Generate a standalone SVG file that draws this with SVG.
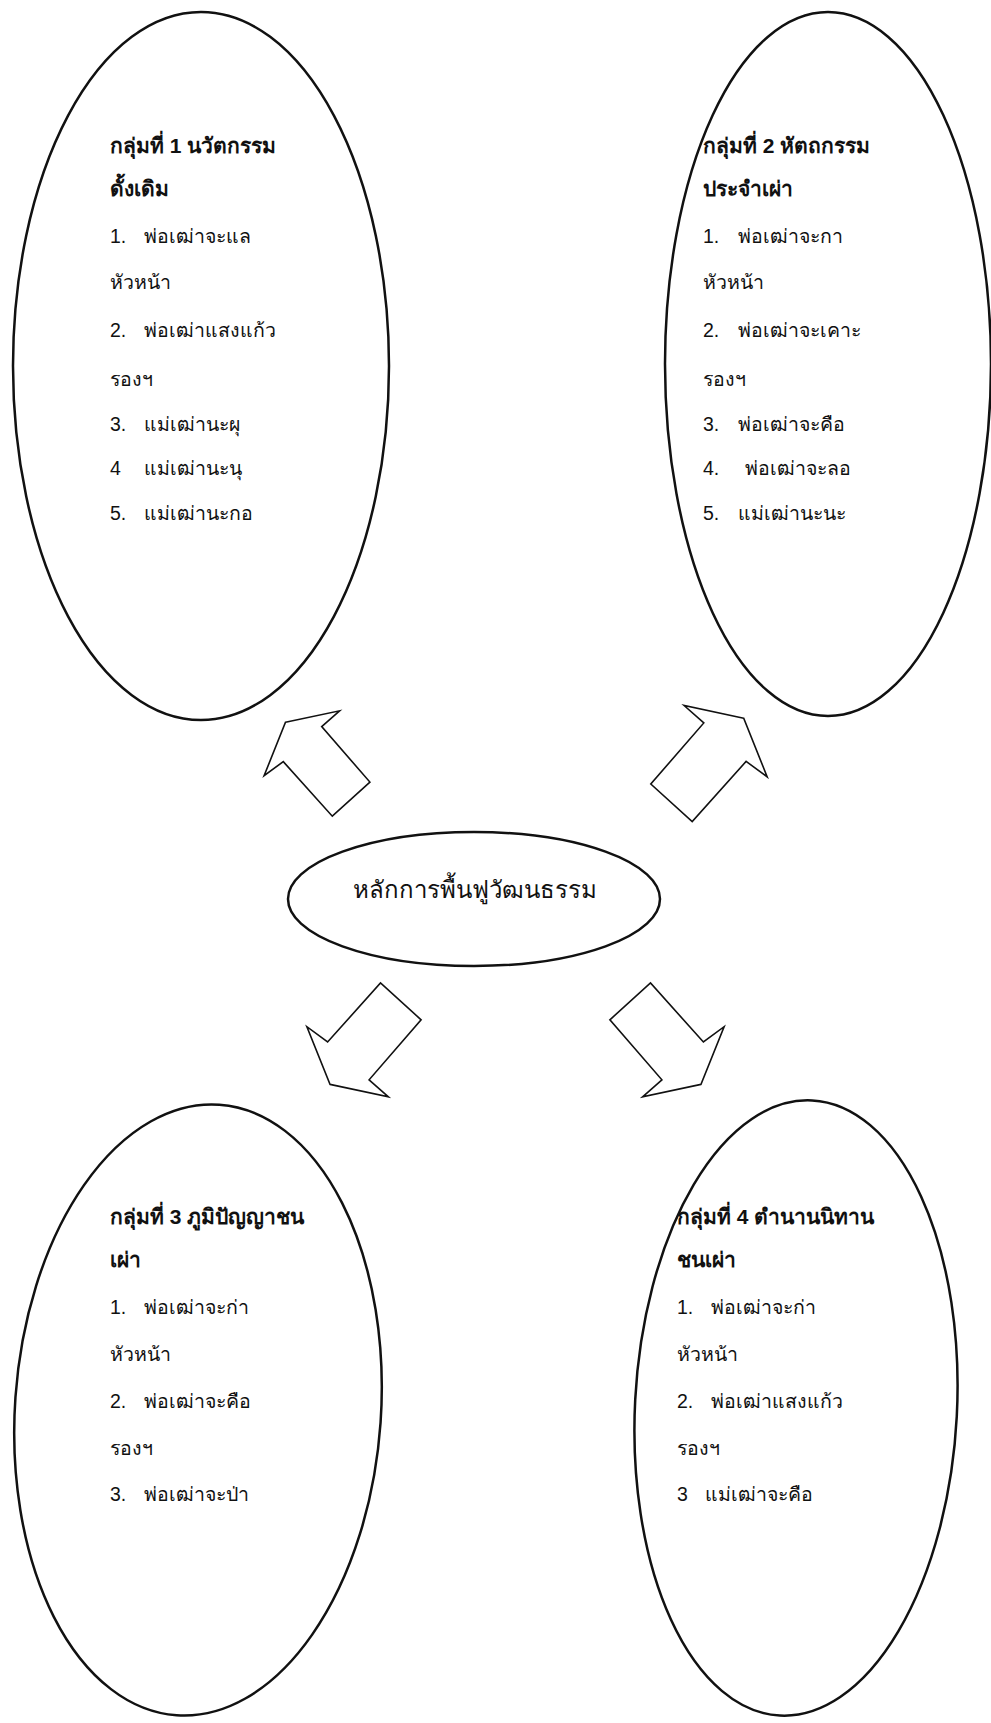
<svg xmlns="http://www.w3.org/2000/svg" width="991" height="1723" viewBox="0 0 991 1723">
<style>
.bg{fill:#fff}
.oval{fill:none;stroke:#111;stroke-width:2.5}
.arrow{fill:#fff;stroke:#111;stroke-width:1.6;stroke-linejoin:miter}
text{font-family:"Liberation Sans","DejaVu Sans","Noto Sans",sans-serif;fill:#111}
.t{font-size:21px;font-weight:bold}
.i{font-size:19.5px}
.c{font-size:24px}
</style>
<rect class="bg" x="0" y="0" width="991" height="1723"/>
<g id="connectors">
<polygon class="arrow" points="285.5,722.3 339.6,710.8 321.7,726.6 369.9,782.1 332.3,816.2 283.3,761.6 264.1,775.7"/>
<polygon class="arrow" points="743.7,718.2 684.1,705.5 703.8,722.9 650.8,784 692.2,821.5 746.1,761.4 767.2,776.9"/>
<polygon class="arrow" points="330,1084.4 388.4,1096.8 369.1,1079.8 421.1,1019.8 380.5,983 327.6,1042 306.9,1026.7"/>
<polygon class="arrow" points="701,1084.4 642.6,1096.8 661.9,1079.8 609.9,1019.8 650.5,983 703.4,1042 724.1,1026.7"/>
</g>
<g id="center">
<ellipse class="oval" cx="474" cy="899" rx="186" ry="67"/>
<text class="c" x="475" y="898" text-anchor="middle">หลักการพื้นฟูวัฒนธรรม</text>
</g>
<g id="group1">
<ellipse class="oval" cx="201" cy="366" rx="188" ry="354"/>
<text class="t" x="110" y="153">กลุ่มที่ 1 นวัตกรรม</text>
<text class="t" x="110" y="196">ดั้งเดิม</text>
<text class="i" x="110" y="243">1.<tspan x="144">พ่อเฒ่าจะแล</tspan></text>
<text class="i" x="110" y="289">หัวหน้า</text>
<text class="i" x="110" y="337">2.<tspan x="144">พ่อเฒ่าแสงแก้ว</tspan></text>
<text class="i" x="110" y="386">รองฯ</text>
<text class="i" x="110" y="431">3.<tspan x="144">แม่เฒ่านะผุ</tspan></text>
<text class="i" x="110" y="475">4<tspan x="144">แม่เฒ่านะนุ</tspan></text>
<text class="i" x="110" y="520">5.<tspan x="144">แม่เฒ่านะกอ</tspan></text>
</g>
<g id="group2">
<ellipse class="oval" cx="828" cy="364" rx="163" ry="352"/>
<text class="t" x="703" y="153">กลุ่มที่ 2 หัตถกรรม</text>
<text class="t" x="703" y="196">ประจำเผ่า</text>
<text class="i" x="703" y="243">1.<tspan x="738">พ่อเฒ่าจะกา</tspan></text>
<text class="i" x="703" y="289">หัวหน้า</text>
<text class="i" x="703" y="337">2.<tspan x="738">พ่อเฒ่าจะเคาะ</tspan></text>
<text class="i" x="703" y="386">รองฯ</text>
<text class="i" x="703" y="431">3.<tspan x="738">พ่อเฒ่าจะคือ</tspan></text>
<text class="i" x="703" y="475">4.<tspan x="745">พ่อเฒ่าจะลอ</tspan></text>
<text class="i" x="703" y="520">5.<tspan x="738">แม่เฒ่านะนะ</tspan></text>
</g>
<g id="group3">
<ellipse class="oval" cx="198" cy="1410" rx="183" ry="306" transform="rotate(4 198 1410)"/>
<text class="t" x="110" y="1224">กลุ่มที่ 3 ภูมิปัญญาชน</text>
<text class="t" x="110" y="1267">เผ่า</text>
<text class="i" x="110" y="1314">1.<tspan x="144">พ่อเฒ่าจะก่า</tspan></text>
<text class="i" x="110" y="1361">หัวหน้า</text>
<text class="i" x="110" y="1408">2.<tspan x="144">พ่อเฒ่าจะคือ</tspan></text>
<text class="i" x="110" y="1455">รองฯ</text>
<text class="i" x="110" y="1501">3.<tspan x="144">พ่อเฒ่าจะป่า</tspan></text>
</g>
<g id="group4">
<ellipse class="oval" cx="796" cy="1408" rx="161" ry="308" transform="rotate(3 796 1408)"/>
<text class="t" x="677" y="1224">กลุ่มที่ 4 ตำนานนิทาน</text>
<text class="t" x="677" y="1267">ชนเผ่า</text>
<text class="i" x="677" y="1314">1.<tspan x="711">พ่อเฒ่าจะก่า</tspan></text>
<text class="i" x="677" y="1361">หัวหน้า</text>
<text class="i" x="677" y="1408">2.<tspan x="711">พ่อเฒ่าแสงแก้ว</tspan></text>
<text class="i" x="677" y="1455">รองฯ</text>
<text class="i" x="677" y="1501">3<tspan x="705">แม่เฒ่าจะคือ</tspan></text>
</g>
</svg>
